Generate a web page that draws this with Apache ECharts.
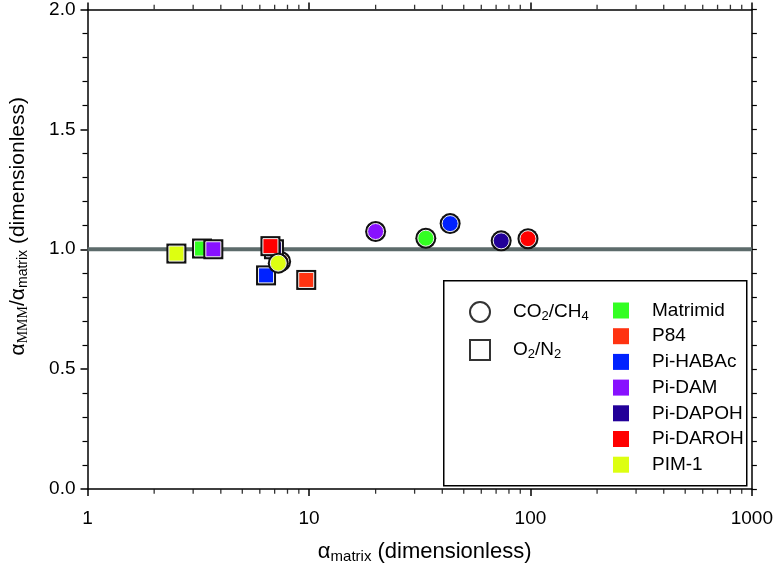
<!DOCTYPE html>
<html>
<head>
<meta charset="utf-8">
<script src="https://cdn.jsdelivr.net/npm/echarts@6/dist/echarts.min.js"></script>
<style>
html,body{margin:0;padding:0;background:#fff;}
#chart{width:776px;height:574px;}
</style>
</head>
<body>
<div id="chart"></div>
<script>
// ---- data ----
const materials = ['Matrimid', 'P84', 'Pi-HABAc', 'Pi-DAM', 'Pi-DAPOH', 'Pi-DAROH', 'PIM-1'];
const materialColors = ['#33ff22', '#ff3311', '#0022ff', '#8811ff', '#220099', '#ff0000', '#ddff11'];
// CO2/CH4 (circles)
const co2ch4AlphaMatrix = [33.7, 7.45, 43.4, 20.0, 73.8, 97.5, 7.27];
const co2ch4Ratio       = [1.046, 0.949, 1.107, 1.074, 1.035, 1.044, 0.942];
// O2/N2 (squares)
const o2n2AlphaMatrix = [3.29, 9.72, 6.40, 3.70, 6.95, 6.70, 2.52];
const o2n2Ratio       = [1.003, 0.872, 0.891, 1.000, 1.000, 1.013, 0.982];
// axes
const xTickLabels = ['1', '10', '100', '1000'];
const yTickLabels = ['0.0', '0.5', '1.0', '1.5', '2.0'];
const xMinorTicks = [2, 3, 4, 5, 6, 7, 8, 9, 20, 30, 40, 50, 60, 70, 80, 90, 200, 300, 400, 500, 600, 700, 800, 900];
const referenceRatio = 1.0;

const FONT = 'Liberation Sans, Arial, sans-serif';
const chart = echarts.init(document.getElementById('chart'), null, {renderer: 'canvas'});

const makeRich = (big, small) => ({
  g: {fontSize: big, fontFamily: FONT, color: '#000', lineHeight: 28, verticalAlign: 'middle'},
  s: {fontSize: small, fontFamily: FONT, color: '#000', lineHeight: 28, verticalAlign: 'bottom', padding: [0, 0, 2, 0]},
  ss: {fontSize: small, fontFamily: 'Liberation Serif, Times New Roman, serif', color: '#000', lineHeight: 28, verticalAlign: 'bottom', padding: [0, 0, 2, 0]}
});

const pointsFor = (i, circleSize, squareSize) => [
  {value: [co2ch4AlphaMatrix[i], co2ch4Ratio[i]], symbol: 'circle', symbolSize: circleSize},
  {value: [o2n2AlphaMatrix[i], o2n2Ratio[i]], symbol: 'rect', symbolSize: squareSize}
];

const materialSeries = [];
materials.forEach((m, i) => {
  // black outer outline
  materialSeries.push({
    type: 'scatter', name: m + ' outline', silent: true,
    itemStyle: {color: '#111', opacity: 1},
    emphasis: {disabled: true},
    data: pointsFor(i, 21, 20), z: 3
  });
  // coloured fill with light inner ring
  materialSeries.push({
    type: 'scatter', name: m,
    itemStyle: {color: materialColors[i], borderColor: '#f2f2f2', borderWidth: 1, opacity: 1},
    emphasis: {disabled: true},
    data: pointsFor(i, 16, 15), z: 3
  });
});

const option = {
  animation: false,
  backgroundColor: '#fff',
  textStyle: {fontFamily: FONT},
  grid: {left: 87, top: 7, width: 669, height: 482, containLabel: false},
  xAxis: [
    {
      type: 'log', logBase: 10, min: 1, max: 1000, position: 'bottom',
      axisLine: {show: true, onZero: false, lineStyle: {color: '#000', width: 1.5}},
      axisTick: {show: true, inside: false, length: 7, lineStyle: {color: '#000', width: 1.5}},
      splitLine: {show: false},
      axisLabel: {
        show: true, margin: 20, color: '#000', fontSize: 19, fontFamily: FONT,
        formatter: v => xTickLabels[Math.round(Math.log10(v))]
      },
      name: '{g|α}{s|matrix}{g| (dimensionless)}',
      nameLocation: 'middle', nameGap: 49,
      nameTextStyle: {rich: makeRich(22, 15), padding: [0, 0, 0, 10]}
    },
    {
      type: 'log', logBase: 10, min: 1, max: 1000, position: 'top',
      axisLine: {show: true, onZero: false, lineStyle: {color: '#000', width: 1.5}},
      axisTick: {show: true, inside: false, length: 7, lineStyle: {color: '#000', width: 1.5}},
      axisLabel: {show: false}, splitLine: {show: false}
    }
  ],
  yAxis: [
    {
      type: 'value', min: 0, max: 2, interval: 0.5, position: 'left',
      axisLine: {show: true, onZero: false, lineStyle: {color: '#000', width: 1.5}},
      axisTick: {show: true, inside: false, length: 7, lineStyle: {color: '#000', width: 1.5}},
      minorTick: {show: true, splitNumber: 5, length: 5, lineStyle: {color: '#000', width: 1.2}},
      splitLine: {show: false},
      axisLabel: {
        margin: 12, color: '#000', fontSize: 19, fontFamily: FONT,
        formatter: v => yTickLabels[Math.round(v / 0.5)]
      },
      name: '{g|α}{ss|MMM}{g|/α}{s|matrix}{g| (dimensionless)}',
      nameLocation: 'middle', nameGap: 55, nameRotate: 90,
      nameTextStyle: {rich: makeRich(21, 14), padding: [0, 0, 0, 46]}
    },
    {
      type: 'value', min: 0, max: 2, interval: 0.1, position: 'right',
      axisLine: {show: true, onZero: false, lineStyle: {color: '#000', width: 1.5}},
      axisTick: {show: true, inside: false, length: 5, lineStyle: {color: '#000', width: 1.2}},
      axisLabel: {show: false}, splitLine: {show: false}
    }
  ],
  legend: [
    {
      orient: 'vertical', left: 469, top: 301, padding: 0,
      itemWidth: 20, itemHeight: 20, itemGap: 16,
      selectedMode: false,
      data: [{name: 'CO2/CH4', icon: 'circle'}, {name: 'O2/N2', icon: 'rect'}],
      formatter: n => n === 'CO2/CH4' ? '{t|CO}{u|2}{t|/CH}{u|4}' : '{t|O}{u|2}{t|/N}{u|2}',
      textStyle: {
        padding: [0, 0, 0, 18],
        rich: {
          t: {fontSize: 19, fontFamily: FONT, color: '#000', lineHeight: 22, verticalAlign: 'middle'},
          u: {fontSize: 13, fontFamily: FONT, color: '#000', lineHeight: 22, verticalAlign: 'bottom'}
        }
      }
    },
    {
      orient: 'vertical', left: 613, top: 301, padding: 0,
      itemWidth: 16, itemHeight: 16, itemGap: 6.7,
      selectedMode: false,
      itemStyle: {borderWidth: 0},
      data: materials.map(m => ({name: m, icon: 'rect'})),
      textStyle: {fontSize: 19, fontFamily: FONT, color: '#000', lineHeight: 16, padding: [0, 0, 0, 18]}
    }
  ],
  graphic: [
    {
      type: 'rect', left: 443, top: 280, z: 0,
      shape: {width: 303, height: 205},
      style: {fill: '#fff', stroke: '#000', lineWidth: 1.5}
    }
  ],
  series: [
    {
      type: 'line', name: 'reference', xAxisIndex: 0, yAxisIndex: 0,
      data: [[1, referenceRatio], [1000, referenceRatio]],
      symbol: 'none', silent: true, z: 1,
      lineStyle: {color: '#5d6b6b', width: 4}
    },
    {
      type: 'scatter', name: 'CO2/CH4', data: [], symbol: 'circle',
      itemStyle: {color: '#fff', borderColor: '#000', borderWidth: 1.5}
    },
    {
      type: 'scatter', name: 'O2/N2', data: [], symbol: 'rect',
      itemStyle: {color: '#fff', borderColor: '#000', borderWidth: 1.5}
    },
    ...materialSeries,
    {
      type: 'scatter', name: 'minorBottom', xAxisIndex: 0, yAxisIndex: 0,
      data: xMinorTicks.map(v => [v, 0]), symbol: 'rect', symbolSize: [1.3, 4.5], symbolOffset: [0, 2.5],
      clip: false, silent: true, itemStyle: {color: '#000'}, z: 4
    },
    {
      type: 'scatter', name: 'minorTop', xAxisIndex: 0, yAxisIndex: 0,
      data: xMinorTicks.map(v => [v, 2]), symbol: 'rect', symbolSize: [1.3, 4.5], symbolOffset: [0, -2.5],
      clip: false, silent: true, itemStyle: {color: '#000'}, z: 4
    }
  ]
};
chart.setOption(option);
</script>
</body>
</html>
